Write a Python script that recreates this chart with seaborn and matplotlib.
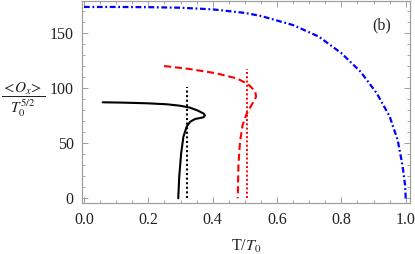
import matplotlib
matplotlib.use("Agg")
import matplotlib.pyplot as plt
import numpy as np
import pandas as pd
import seaborn as sns

# black solid branch (T/T0, <O_x>/T0^(5/2))
black_T = [0.058, 0.12, 0.195, 0.257, 0.298, 0.330, 0.355, 0.372, 0.376, 0.371, 0.345, 0.330, 0.319, 0.309, 0.302, 0.296, 0.293]
black_O = [87.3, 87.0, 86.4, 85.5, 84.2, 82.4, 79.6, 77.0, 75.4, 73.6, 72.1, 69.6, 65.1, 56.0, 40.9, 19.6, 0.0]
black_Tc = 0.321
black_top = 101.5

# red dashed branch
red_T = [0.249, 0.330, 0.412, 0.475, 0.509, 0.532, 0.535, 0.521, 0.506, 0.493, 0.485, 0.480, 0.478]
red_O = [120.3, 117.5, 113.6, 109.0, 104.0, 97.5, 92.4, 84.8, 77.3, 66.6, 51.5, 30.3, 0.0]
red_Tc = 0.508
red_top = 117.5

# blue dash-dot branch
blue_T = [0.0, 0.1, 0.2, 0.3, 0.4, 0.5, 0.55, 0.65, 0.73, 0.8, 0.86, 0.91, 0.95, 0.975, 0.99, 0.998, 1.0]
blue_O = [174.0, 174.0, 173.8, 173.3, 171.8, 168.6, 165.8, 157.5, 147.0, 132.0, 115.0, 95.5, 74.5, 53.0, 30.0, 12.0, 0.0]

sns.set_theme(style="ticks")
plt.rcParams['font.family'] = ['Liberation Serif', 'DejaVu Serif']
plt.rcParams['mathtext.fontset'] = 'stix'

fig = plt.figure(figsize=(4.15, 2.54), dpi=100)
ax = fig.add_axes([0.1976, 0.199, 0.7904, 0.797])

sns.lineplot(x=blue_T, y=blue_O, sort=False, estimator=None, color='#0000ff',
             lw=1.6, linestyle=(0, (2.6, 1.2, 0.8, 1.2)), ax=ax)
sns.lineplot(x=red_T, y=red_O, sort=False, estimator=None, color='#ff0000',
             lw=1.5, linestyle=(0, (3.4, 1.8)), ax=ax)
sns.lineplot(x=[red_Tc, red_Tc], y=[0, red_top], sort=False, estimator=None,
             color='#ff0000', lw=1.4, linestyle=(0, (1, 1.2)), ax=ax)
sns.lineplot(x=black_T, y=black_O, sort=False, estimator=None, color='black',
             lw=1.5, ax=ax)
sns.lineplot(x=[black_Tc, black_Tc], y=[0, black_top], sort=False, estimator=None,
             color='black', lw=1.5, linestyle=(0, (1, 1.2)), ax=ax)

ax.set_xlim(-0.0062, 1.0134)
ax.set_ylim(-4.7, 179.4)
ax.set_xticks(np.arange(0, 1.01, 0.2))
ax.set_xticks(np.arange(0, 1.01, 0.05), minor=True)
ax.set_yticks([0, 50, 100, 150])
ax.set_yticks(np.arange(0, 171, 10), minor=True)
ax.set_xticklabels(['0.0', '0.2', '0.4', '0.6', '0.8', '1.0'])

for s in ax.spines.values():
    s.set_color('#a0a0a0')
    s.set_linewidth(0.9)
ax.tick_params(which='both', direction='in', top=True, right=True,
               color='#a0a0a0', labelcolor='#222222', labelsize=11.5, width=0.7)
ax.tick_params(which='major', length=4, pad=6)
ax.tick_params(which='minor', length=2)

ax.set_xlabel(r'T/$T_0$', fontsize=11.5, color='#222222', labelpad=7)
ax.set_ylabel(r'$\dfrac{<\!O_x\!>}{T_0^{5/2}}$', fontsize=11, rotation=0,
              color='#222222', va='center', ha='center')
ax.yaxis.set_label_coords(-0.18, 0.51)
ax.text(0.925, 157, '(b)', fontsize=11.5, ha='center', va='center', color='#222222')

fig.savefig('out.png', dpi=100)
